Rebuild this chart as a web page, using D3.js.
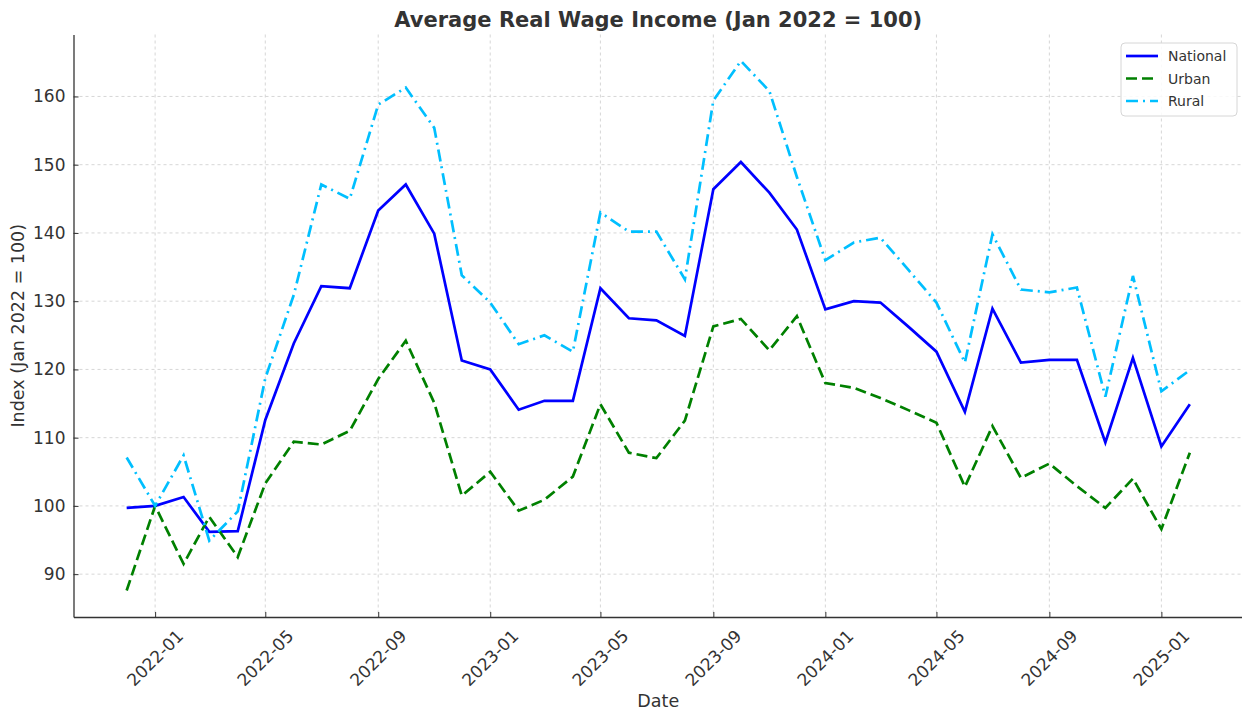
<!DOCTYPE html>
<html lang="en">
<head>
<meta charset="UTF-8">
<title>Average Real Wage Income</title>
<script src="https://d3js.org/d3.v7.min.js"></script>
<style>
	body { margin: 0; background: #fff; }
	svg { display: block; font-family: "DejaVu Sans", sans-serif; }
</style>
</head>
<body>
<svg id="chart" width="1242" height="711"></svg>
<script>
// monthly points, Dec 2021 .. Feb 2025
const months = [
	"2021-12", "2022-01", "2022-02", "2022-03", "2022-04", "2022-05", "2022-06", "2022-07",
	"2022-08", "2022-09", "2022-10", "2022-11", "2022-12", "2023-01", "2023-02", "2023-03",
	"2023-04", "2023-05", "2023-06", "2023-07", "2023-08", "2023-09", "2023-10", "2023-11",
	"2023-12", "2024-01", "2024-02", "2024-03", "2024-04", "2024-05", "2024-06", "2024-07",
	"2024-08", "2024-09", "2024-10", "2024-11", "2024-12", "2025-01", "2025-02"
];
const national = [
	99.7, 100, 101.3, 96.2, 96.3, 112.6, 123.8, 132.2,
	131.9, 143.3, 147.1, 139.9, 121.3, 120.0, 114.1, 115.4,
	115.4, 131.9, 127.5, 127.2, 124.9, 146.4, 150.4, 145.9,
	140.5, 128.8, 130.0, 129.8, 126.2, 122.6, 113.8, 128.9,
	121.0, 121.4, 121.4, 109.3, 121.7, 108.7, 114.9
];
const urban = [
	87.6, 100, 91.5, 98.4, 92.5, 103.3, 109.4, 109.0,
	111.0, 118.6, 124.2, 115.1, 101.5, 105.0, 99.3, 100.9,
	104.3, 114.9, 107.8, 107.0, 112.5, 126.3, 127.4, 122.8,
	127.8, 118.0, 117.3, 115.8, 114.0, 112.2, 102.8, 111.7,
	104.1, 106.2, 102.9, 99.7, 104.0, 96.6, 107.8
];
const rural = [
	107.1, 100, 107.4, 94.9, 99.2, 118.7, 130.9, 147.1,
	145.0, 158.8, 161.3, 155.4, 133.8, 129.8, 123.7, 125.0,
	122.6, 143.0, 140.2, 140.2, 133.2, 159.4, 165.2, 160.8,
	148.2, 136.0, 138.6, 139.3, 134.5, 129.8, 121.0, 139.8,
	131.7, 131.3, 132.0, 116.0, 133.7, 116.8, 119.9
];
const xTicks = ["2022-01", "2022-05", "2022-09", "2023-01", "2023-05", "2023-09", "2024-01", "2024-05", "2024-09", "2025-01"];
const yTicks = [90, 100, 110, 120, 130, 140, 150, 160];

const parse = d3.timeParse("%Y-%m");
const dates = months.map(parse);

const series = [
	{ name: "National", values: national, color: "#0000ff", dash: null },
	{ name: "Urban", values: urban, color: "#008000", dash: "11,5" },
	{ name: "Rural", values: rural, color: "#00bfff", dash: "12,5,2,5" }
];

const svg = d3.select("#chart");
const m = { left: 73.5, right: 1243, top: 34.5, bottom: 617 };

// 5% padding like the default matplotlib margins
const tExt = d3.extent(dates);
const tPad = (tExt[1] - tExt[0]) * 0.05;
const x = d3.scaleTime()
	.domain([new Date(+tExt[0] - tPad), new Date(+tExt[1] + tPad)])
	.range([m.left, m.right]);

const allVals = national.concat(urban, rural);
const vExt = d3.extent(allVals);
const vPad = (vExt[1] - vExt[0]) * 0.05;
const y = d3.scaleLinear()
	.domain([vExt[0] - vPad, vExt[1] + vPad])
	.range([m.bottom, m.top]);

// grid
const grid = svg.append("g");
xTicks.forEach(t => {
	grid.append("line")
		.attr("x1", x(parse(t))).attr("x2", x(parse(t)))
		.attr("y1", m.top).attr("y2", m.bottom)
		.attr("stroke", "#cccccc").attr("stroke-width", 0.8).attr("stroke-dasharray", "3,3");
});
yTicks.forEach(t => {
	grid.append("line")
		.attr("x1", m.left).attr("x2", m.right)
		.attr("y1", y(t)).attr("y2", y(t))
		.attr("stroke", "#cccccc").attr("stroke-width", 0.8).attr("stroke-dasharray", "3,3");
});

// lines
const line = d3.line()
	.x((d, i) => x(dates[i]))
	.y(d => y(d));

series.forEach(s => {
	svg.append("path")
		.datum(s.values)
		.attr("d", line)
		.attr("fill", "none")
		.attr("stroke", s.color)
		.attr("stroke-width", 2.7)
		.attr("stroke-dasharray", s.dash)
		.attr("stroke-linejoin", "miter");
});

// axes (ticks pointing inward)
const xAxis = svg.append("g")
	.attr("transform", `translate(0,${m.bottom})`)
	.call(d3.axisBottom(x).tickValues(xTicks.map(parse)).tickSizeInner(-5).tickSizeOuter(0).tickFormat(""));
xAxis.select(".domain").attr("stroke", "#333").attr("stroke-width", 1.3);
xAxis.selectAll(".tick line").attr("stroke", "#333");

xTicks.forEach(t => {
	const px = x(parse(t));
	svg.append("text")
		.attr("transform", `translate(${px},658) rotate(-45)`)
		.attr("text-anchor", "middle")
		.attr("dominant-baseline", "central")
		.attr("font-size", 17)
		.attr("fill", "#333")
		.text(t);
});

const yAxis = svg.append("g")
	.attr("transform", `translate(${m.left},0)`)
	.call(d3.axisLeft(y).tickValues(yTicks).tickSizeInner(-5).tickSizeOuter(0).tickPadding(8));
yAxis.select(".domain").attr("stroke", "#333").attr("stroke-width", 1.3);
yAxis.selectAll(".tick line").attr("stroke", "#333");
yAxis.selectAll(".tick text")
	.attr("font-size", 17)
	.attr("fill", "#333")
	.attr("font-family", "DejaVu Sans, sans-serif");

// titles
svg.append("text")
	.attr("x", (m.left + m.right) / 2).attr("y", 27)
	.attr("text-anchor", "middle")
	.attr("font-size", 21).attr("font-weight", "bold")
	.attr("fill", "#333")
	.text("Average Real Wage Income (Jan 2022 = 100)");

svg.append("text")
	.attr("x", (m.left + m.right) / 2).attr("y", 707)
	.attr("text-anchor", "middle")
	.attr("font-size", 17.5).attr("fill", "#333")
	.text("Date");

svg.append("text")
	.attr("transform", `translate(24,${(m.top + m.bottom) / 2}) rotate(-90)`)
	.attr("text-anchor", "middle")
	.attr("font-size", 17.5).attr("fill", "#333")
	.text("Index (Jan 2022 = 100)");

// legend
const lg = svg.append("g").attr("transform", "translate(1121,43)");
lg.append("rect")
	.attr("width", 116).attr("height", 73)
	.attr("rx", 4)
	.attr("fill", "#fff").attr("fill-opacity", 0.85)
	.attr("stroke", "#d6d6d6");
series.forEach((s, i) => {
	const ly = 13 + i * 22.5;
	lg.append("line")
		.attr("x1", 5).attr("x2", 37)
		.attr("y1", ly).attr("y2", ly)
		.attr("stroke", s.color).attr("stroke-width", 2.7)
		.attr("stroke-dasharray", s.dash);
	lg.append("text")
		.attr("x", 47).attr("y", ly)
		.attr("dominant-baseline", "central")
		.attr("font-size", 14).attr("fill", "#333")
		.text(s.name);
});
</script>
</body>
</html>
